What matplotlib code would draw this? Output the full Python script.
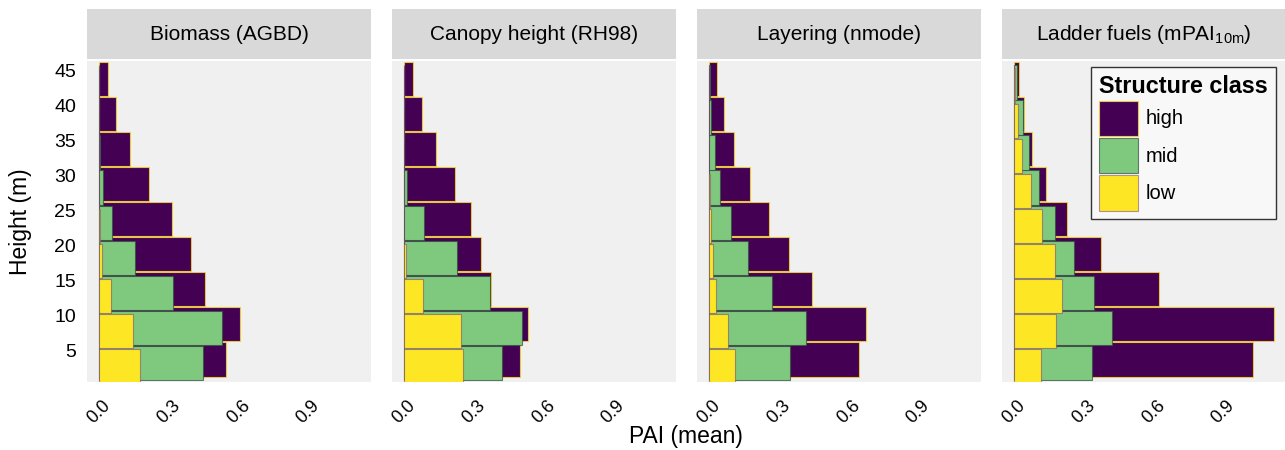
import matplotlib.pyplot as plt
import numpy as np
from matplotlib.patches import Patch

plt.rcParams['font.family'] = ['Liberation Sans', 'DejaVu Sans']
plt.rcParams['mathtext.fontset'] = 'custom'
plt.rcParams['mathtext.rm'] = 'Liberation Sans'
plt.rcParams['mathtext.it'] = 'Liberation Sans:italic'

# height bins (lower edge, m)
bins = [0, 5, 10, 15, 20, 25, 30, 35, 40]
panel_titles = ['Biomass (AGBD)', 'Canopy height (RH98)', 'Layering (nmode)',
                r'Ladder fuels (mPAI$_{\mathrm{10m}}$)']
class_names = ['high', 'mid', 'low']
x_ticks = [0.0, 0.3, 0.6, 0.9]
y_ticks = [5, 10, 15, 20, 25, 30, 35, 40, 45]

# mean PAI per bin, one list per structure class and panel
low_agbd = [0.176, 0.146, 0.050, 0.014, 0.003, 0.0, 0.0, 0.0, 0.0]
mid_agbd = [0.270, 0.382, 0.266, 0.139, 0.055, 0.019, 0.006, 0.0, 0.0]
high_agbd = [0.099, 0.076, 0.139, 0.244, 0.256, 0.196, 0.126, 0.075, 0.040]

low_rh98 = [0.253, 0.245, 0.082, 0.009, 0.0, 0.0, 0.0, 0.0, 0.0]
mid_rh98 = [0.168, 0.262, 0.286, 0.220, 0.086, 0.012, 0.0, 0.0, 0.0]
high_rh98 = [0.076, 0.024, 0.008, 0.102, 0.203, 0.208, 0.136, 0.076, 0.040]

low_nmode = [0.112, 0.082, 0.030, 0.017, 0.009, 0.005, 0.0, 0.0, 0.0]
mid_nmode = [0.237, 0.333, 0.239, 0.149, 0.084, 0.044, 0.024, 0.010, 0.006]
high_nmode = [0.295, 0.259, 0.173, 0.176, 0.165, 0.126, 0.083, 0.053, 0.028]

low_mpai = [0.115, 0.180, 0.205, 0.176, 0.122, 0.072, 0.036, 0.016, 0.006]
mid_mpai = [0.221, 0.242, 0.140, 0.082, 0.053, 0.037, 0.027, 0.021, 0.008]
high_mpai = [0.691, 0.694, 0.279, 0.115, 0.052, 0.027, 0.014, 0.006, 0.009]

lows = [low_agbd, low_rh98, low_nmode, low_mpai]
mids = [mid_agbd, mid_rh98, mid_nmode, mid_mpai]
highs = [high_agbd, high_rh98, high_nmode, high_mpai]

fills = {'high': '#440154', 'mid': '#7FC97F', 'low': '#FDE725'}
edges = {'high': (0.99, 0.85, 0.2, 0.8), 'mid': (0.2, 0.3, 0.25, 0.7), 'low': (0.42, 0.2, 0.5, 0.5)}
offsets = {'high': 3.8, 'mid': 3.3, 'low': 2.85}

W, H = 1285, 450
fig = plt.figure(figsize=(W / 100, H / 100), dpi=100)

lefts = [87, 392, 697, 1002]
pw = 284
p_top, p_bot = 61, 382
s_top, s_bot = 9, 59

axes = []
for i, left in enumerate(lefts):
    ax = fig.add_axes([left / W, 1 - p_bot / H, pw / W, (p_bot - p_top) / H])
    ax.set_facecolor('#f0f0f0')
    for sp in ax.spines.values():
        sp.set_visible(False)

    y = np.array(bins, dtype=float)
    lo = np.array(lows[i])
    mi = np.array(mids[i])
    hi = np.array(highs[i])
    cum = {'low': lo, 'mid': lo + mi, 'high': lo + mi + hi}
    for c in ['high', 'mid', 'low']:
        ax.barh(y + offsets[c], cum[c], height=4.9, color=fills[c],
                edgecolor=edges[c], linewidth=0.8)

    ax.set_xlim(-0.0515, 1.169)
    ax.set_ylim(0.57, 46.37)
    ax.set_xticks(x_ticks)
    ax.set_xticklabels([f'{v:.1f}' for v in x_ticks], rotation=45, ha='center', fontsize=13)
    ax.set_yticks(y_ticks)
    if i == 0:
        ax.set_yticklabels([str(v) for v in y_ticks], fontsize=14)
    else:
        ax.set_yticklabels([])
    ax.tick_params(length=0, pad=8)
    ax.tick_params(axis='x', pad=11)

    # facet strip
    sax = fig.add_axes([left / W, 1 - s_bot / H, pw / W, (s_bot - s_top) / H])
    sax.set_facecolor('#d9d9d9')
    sax.set_xticks([])
    sax.set_yticks([])
    for sp in sax.spines.values():
        sp.set_visible(False)
    sax.text(0.5, 0.5, panel_titles[i], ha='center', va='center', fontsize=15,
             transform=sax.transAxes)
    axes.append(ax)

handles = [Patch(facecolor=fills[c], edgecolor=edges[c], linewidth=0.8, label=c) for c in class_names]
leg = axes[3].legend(handles=handles, title='Structure class', loc='upper right',
                     bbox_to_anchor=(0.965, 0.981), borderaxespad=0, fontsize=14.5,
                     title_fontproperties={'weight': 'bold', 'size': 16.8},
                     handlelength=1.9, handleheight=2.3, labelspacing=0.12,
                     handletextpad=0.4, borderpad=0.4, alignment='left',
                     fancybox=False, framealpha=1)
leg.get_frame().set_edgecolor('#333333')
leg.get_frame().set_facecolor('#f8f8f8')
leg.get_frame().set_linewidth(1.0)

fig.text(686 / W, 1 - 437 / H, 'PAI (mean)', ha='center', va='center', fontsize=16.5)
fig.text(21 / W, 1 - 222 / H, 'Height (m)', ha='center', va='center', rotation=90, fontsize=16.5)

fig.savefig('out.png', dpi=100)
